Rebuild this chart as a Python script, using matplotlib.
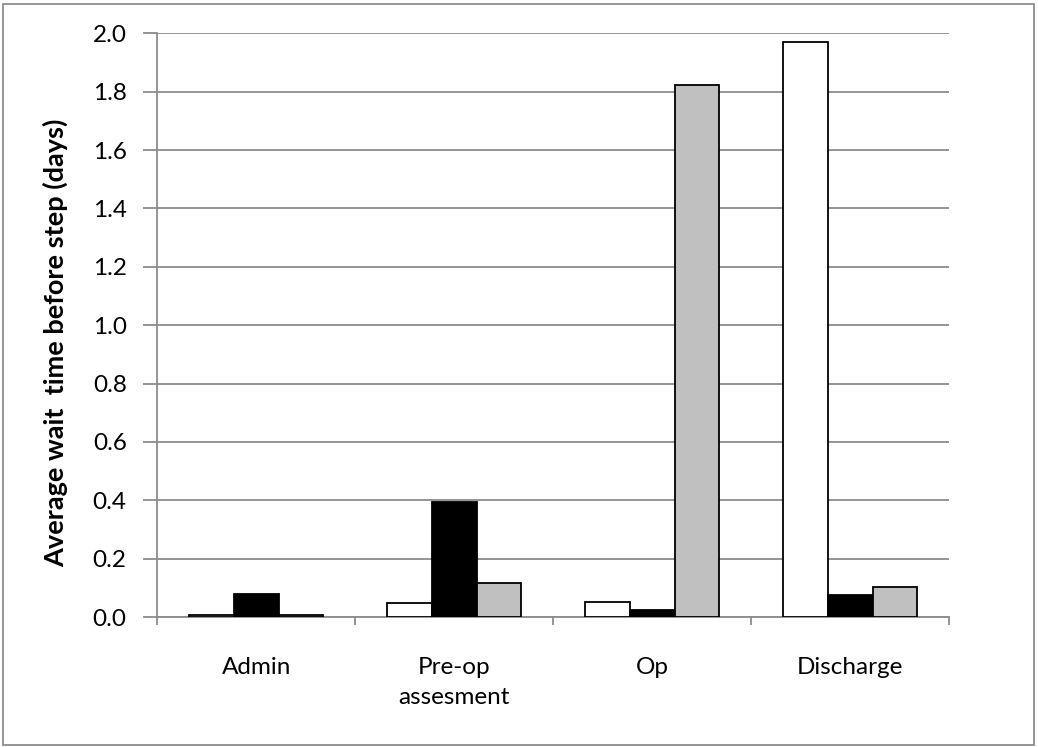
import numpy as np
import matplotlib.pyplot as plt
from matplotlib.patches import Rectangle

# average wait (days) before each step, three series per step
steps = ["Admin", "Pre-op\nassesment", "Op", "Discharge"]
series_white = [0.008, 0.047, 0.052, 1.970]
series_black = [0.078, 0.394, 0.024, 0.075]
series_gray = [0.008, 0.117, 1.824, 0.103]

fills = ["white", "black", "#c0c0c0"]
grid_col = "#8c8c8c"
fs = 17.5

plt.rcParams["font.family"] = ["Lato", "DejaVu Sans"]

fig = plt.figure(figsize=(10.38, 7.47), dpi=100)
ax = fig.add_axes([157.3 / 1038, 1 - 617 / 747, 792 / 1038, (617 - 33.3) / 747])

x = np.arange(len(steps))
w = 0.226
for k, (vals, fc) in enumerate(zip([series_white, series_black, series_gray], fills)):
    ax.bar(x + (k - 1) * w, vals, width=w, color=fc, edgecolor="black",
           linewidth=1.3, zorder=3)

ax.set_xlim(-0.5, len(steps) - 0.5)
ax.set_ylim(0, 2.0)
ax.set_yticks(np.arange(0, 2.01, 0.2))
ax.set_yticklabels([f"{v:.1f}" for v in np.arange(0, 2.01, 0.2)])
ax.yaxis.grid(True, color=grid_col, linewidth=1.3, zorder=0)

# category boundaries as ticks, labels centred under each group
ax.set_xticks(np.arange(-0.5, len(steps), 1.0))
ax.set_xticklabels([])
ax.set_xticks(x, minor=True)
ax.set_xticklabels(steps, minor=True, fontsize=fs, linespacing=1.5)
ax.tick_params(axis="x", which="minor", length=0, pad=29)
ax.tick_params(axis="x", which="major", length=6, width=1.3, color=grid_col, direction="out")
ax.tick_params(axis="y", length=10, width=1.3, color=grid_col, labelsize=fs, pad=12)
for lbl in ax.get_xticklabels(minor=True):
    lbl.set_verticalalignment("top")

for side in ["top", "right"]:
    ax.spines[side].set_visible(False)
for side in ["left", "bottom"]:
    ax.spines[side].set_color(grid_col)
    ax.spines[side].set_linewidth(1.3)

ax.set_ylabel("Average wait  time before step (days)", fontsize=19.5,
              fontweight="bold")
ax.yaxis.set_label_coords(-0.113, 0.47)

# outer chart border
fig.add_artist(Rectangle((3 / 1038, 2 / 747), 1031 / 1038, 741 / 747,
                         transform=fig.transFigure, fill=False,
                         edgecolor=grid_col, linewidth=1.3))

fig.savefig("out.png", dpi=100)
